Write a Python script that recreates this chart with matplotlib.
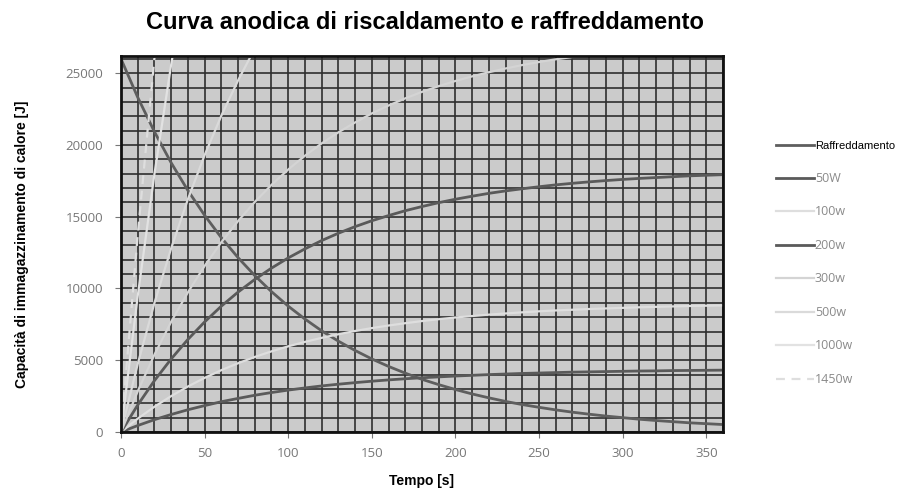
import matplotlib.pyplot as plt
from matplotlib.ticker import MultipleLocator

# time axis [s]
tempo = [0, 10, 20, 30, 40, 50, 60, 70, 80, 90, 100, 110, 120, 130, 140, 150,
         160, 170, 180, 190, 200, 210, 220, 230, 240, 250, 260, 270, 280, 290,
         300, 310, 320, 330, 340, 350, 360]

raffreddamento = [26000, 23320, 20920, 18760, 16830, 15100, 13540, 12150, 10900,
                  9780, 8770, 7870, 7050, 6330, 5680, 5090, 4570, 4100, 3670,
                  3300, 2960, 2650, 2380, 2130, 1910, 1720, 1540, 1380, 1240,
                  1110, 1000, 890, 800, 720, 640, 580, 520]
w50 = [0, 450, 860, 1220, 1550, 1840, 2110, 2340, 2560, 2750, 2920, 3070, 3210,
       3330, 3440, 3540, 3630, 3710, 3780, 3840, 3900, 3950, 4000, 4040, 4080,
       4110, 4140, 4170, 4190, 4210, 4230, 4250, 4260, 4280, 4290, 4300, 4310]
w100 = [0, 930, 1760, 2500, 3170, 3770, 4310, 4790, 5230, 5620, 5970, 6280, 6560,
        6810, 7040, 7240, 7420, 7580, 7730, 7860, 7980, 8080, 8180, 8260, 8340,
        8410, 8470, 8520, 8570, 8610, 8650, 8690, 8720, 8750, 8780, 8800, 8820]
w200 = [0, 1880, 3580, 5090, 6450, 7670, 8770, 9750, 10630, 11420, 12130, 12760,
        13340, 13850, 14310, 14720, 15080, 15420, 15710, 15980, 16220, 16430,
        16630, 16800, 16950, 17090, 17220, 17330, 17430, 17520, 17600, 17670,
        17730, 17790, 17850, 17890, 17930]
w300 = [0, 2840, 5390, 7680, 9730, 11570, 13220, 14700, 16030, 17220, 18290,
        19250, 20110, 20880, 21570, 22200, 22750, 23250, 23700, 24100, 24460,
        24780, 25070, 25330, 25570, 25780, 25970, 26130, 26280, 26420, 26540,
        26650, 26750, 26840, 26920, 26980, 27050]
w500 = [0, 4740, 8990, 12800, 16220, 19290, 22040, 24500, 26720, 28700]
w1000 = [0, 9480, 17980, 25600, 32440]
w1450 = [0, 13740, 26070, 37130]

serie = [
    ('Raffreddamento', raffreddamento, '#5e5e5e', 2.0, '-'),
    ('50W', w50, '#5a5a5a', 2.0, '-'),
    ('100w', w100, '#dedede', 1.6, '-'),
    ('200w', w200, '#5a5a5a', 2.0, '-'),
    ('300w', w300, '#d4d4d4', 1.6, '-'),
    ('500w', w500, '#dadada', 1.6, '-'),
    ('1000w', w1000, '#e2e2e2', 1.6, '-'),
    ('1450w', w1450, '#dedede', 1.6, (0, (4, 3))),
]

fig = plt.figure(figsize=(9.12, 4.96), dpi=100)
ax = fig.add_axes([121 / 912, 1 - 432 / 496, 602 / 912, 376 / 496])
ax.set_facecolor('#cbcbcb')

for nome, valori, col, lw, ls in serie:
    ax.plot(tempo[:len(valori)], valori, color=col, lw=lw, ls=ls, label=nome)

ax.set_xlim(0, 360)
ax.set_ylim(0, 26200)
ax.xaxis.set_major_locator(MultipleLocator(50))
ax.yaxis.set_major_locator(MultipleLocator(5000))
ax.xaxis.set_minor_locator(MultipleLocator(10))
ax.yaxis.set_minor_locator(MultipleLocator(1000))
ax.grid(True, which='both', color='#2e2e2e', lw=1.2)
ax.set_axisbelow(True)
for s in ax.spines.values():
    s.set_linewidth(2)
    s.set_color('#111111')
ax.tick_params(which='minor', length=0)
ax.tick_params(which='major', length=4, color='#777777', labelcolor='#777777',
               labelsize=9.5)
ax.tick_params(axis='y', pad=9)
ax.tick_params(axis='x', pad=7)
for lab in ax.get_xticklabels() + ax.get_yticklabels():
    lab.set_family('Open Sans')

fig.suptitle('Curva anodica di riscaldamento e raffreddamento', x=0.466, y=0.978,
             fontsize=17, fontweight='bold',
             family=['Liberation Sans Narrow', 'Liberation Sans'])
ax.set_xlabel('Tempo [s]', fontsize=10, fontweight='bold',
              family='Liberation Sans', labelpad=10)
ax.set_ylabel('Capacità di immagazzinamento di calore [J]', fontsize=10,
              fontweight='bold', family='Liberation Sans', labelpad=26)

leg = fig.legend(loc='upper left', bbox_to_anchor=(766 / 912, 1 - 131 / 496),
                 frameon=False, fontsize=8, handlelength=3.4, handletextpad=0.1,
                 labelspacing=1.85)
for i, t in enumerate(leg.get_texts()):
    if i == 0:
        t.set_family('Liberation Sans')
        t.set_color('black')
    else:
        t.set_color('#8a8a8a')
        t.set_family('Open Sans')
        t.set_fontsize(9)

fig.savefig('out.png', dpi=100)
